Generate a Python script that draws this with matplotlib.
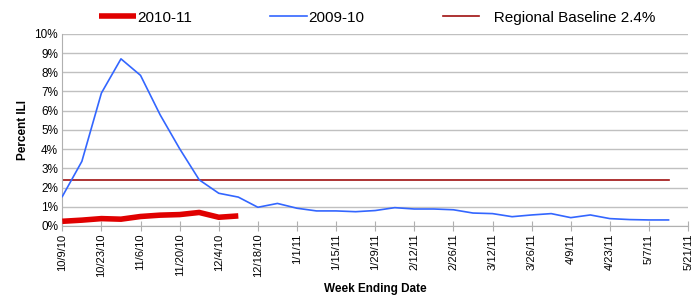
import numpy as np
import pandas as pd
import matplotlib
matplotlib.use("Agg")
import matplotlib.pyplot as plt
from matplotlib.ticker import FuncFormatter, FixedLocator

plt.rcParams['font.family'] = ['Liberation Sans', 'DejaVu Sans']

# week ending dates, 10/9/10 .. 5/21/11
weeks = pd.date_range("2010-10-09", "2011-05-21", freq="7D")

# percent ILI
ili_2010_11 = [0.24, 0.30, 0.38, 0.35, 0.49, 0.56, 0.59, 0.70, 0.45, 0.52]
ili_2009_10 = [1.53, 3.36, 6.92, 8.70, 7.84, 5.79, 4.02, 2.40, 1.70, 1.50,
               0.97, 1.17, 0.92, 0.78, 0.78, 0.74, 0.80, 0.95, 0.88, 0.88,
               0.84, 0.67, 0.64, 0.48, 0.57, 0.64, 0.43, 0.57, 0.38, 0.33,
               0.31, 0.31]
baseline = 2.4

fig = plt.figure(figsize=(7, 3), dpi=100)
ax = fig.add_axes([0.089, 0.247, 0.894, 0.640])

x = np.arange(len(weeks))
ax.plot(x[:len(ili_2010_11)], ili_2010_11, color='#e00000', lw=4, label='2010-11',
        solid_capstyle='butt', zorder=4)
ax.plot(x[:len(ili_2009_10)], ili_2009_10, color='#3366ff', lw=1.2, label='2009-10', zorder=3)
ax.plot(x[:len(ili_2009_10)], [baseline] * len(ili_2009_10), color='#a01010', lw=1.2,
        label='   Regional Baseline 2.4%', zorder=2)

ax.set_xlim(0, len(weeks) - 1)
ax.set_ylim(0, 10)
ax.set_yticks(np.arange(0, 11, 1))
ax.yaxis.set_major_formatter(FuncFormatter(lambda v, p: f"{int(v)}%"))
ax.grid(axis='y', color='#c0c0c0', lw=1)
ax.set_axisbelow(True)

ticks = x[::2]
ax.xaxis.set_major_locator(FixedLocator(ticks))
ax.set_xticklabels([f"{d.month}/{d.day}/{d.year % 100}" for d in weeks[::2]],
                   rotation=90, fontsize=8)
ax.tick_params(axis='x', direction='inout', length=7, color='#b0b0b0', pad=2)
ax.tick_params(axis='y', length=0, labelsize=8.5, pad=3)

for s in ['top', 'right']:
    ax.spines[s].set_visible(False)
ax.spines['left'].set_color('#b0b0b0')
ax.spines['bottom'].set_color('#b0b0b0')

ax.set_ylabel('Percent ILI', fontsize=8.5, fontweight='bold', labelpad=4)
ax.set_xlabel('Week Ending Date', fontsize=8.5, fontweight='bold', labelpad=4)

ax.legend(loc='lower left', bbox_to_anchor=(0.052, 1.025), ncol=3, frameon=False,
          fontsize=11, handlelength=2.4, columnspacing=5.1, handletextpad=0.1,
          borderaxespad=0.1, borderpad=0.2)

fig.savefig('out.png', dpi=100)
